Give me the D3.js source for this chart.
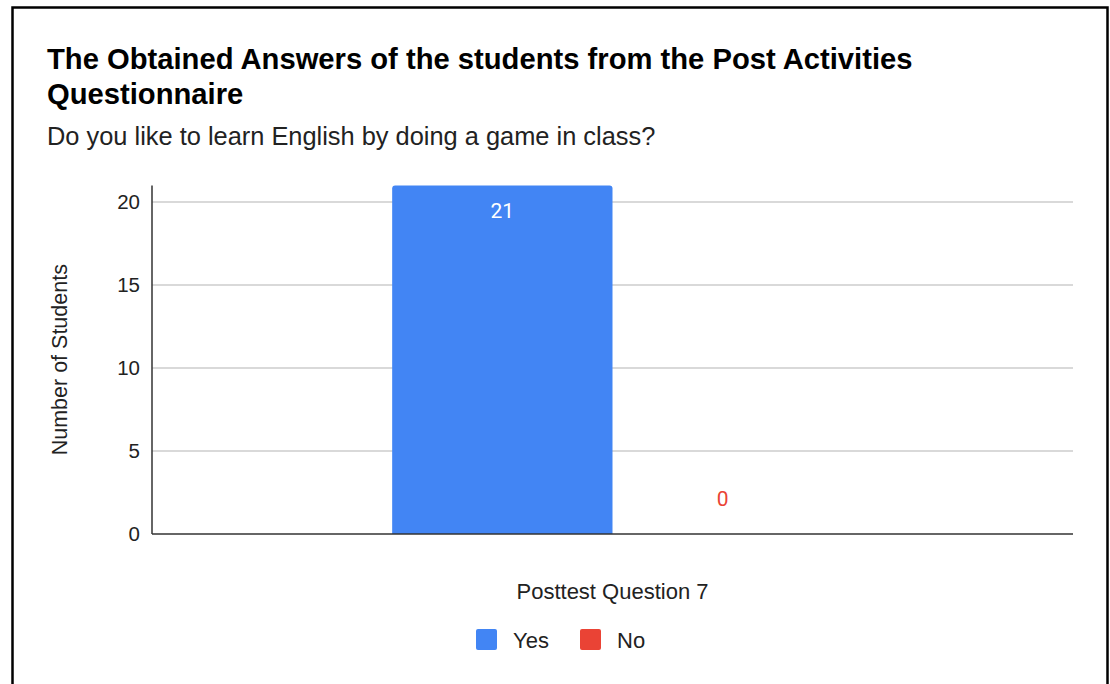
<!DOCTYPE html>
<html>
<head>
<meta charset="utf-8">
<script src="https://cdn.jsdelivr.net/npm/d3@7"></script>
<style>
  html, body { margin: 0; padding: 0; background: #fff; }
  svg { display: block; }
</style>
</head>
<body>
<svg id="chart" width="1110" height="684"></svg>
<script>
// Survey answers for one posttest question
const categories = ["Posttest Question 7"];
const seriesNames = ["Yes", "No"];
const seriesValues = [21, 0];
const seriesColors = ["#4285f4", "#ea4335"];
const yTicks = [0, 5, 10, 15, 20];

const titleLines = ["The Obtained Answers of the students from the Post Activities", "Questionnaire"];
const subtitle = "Do you like to learn English by doing a game in class?";
const yTitle = "Number of Students";

const svg = d3.select("#chart");
const font = "'Liberation Sans', Arial, sans-serif";

// Frame around the chart
svg.append("path")
  .attr("d", "M12.5,684 V7.5 H1107.5 V684")
  .attr("fill", "none").attr("stroke", "#000").attr("stroke-width", 2.5);

const m = { left: 152, right: 1073, top: 185.4, bottom: 534 };

const y = d3.scaleLinear().domain([0, 21]).range([m.bottom, m.top]);
const x0 = d3.scaleBand().domain(categories).range([m.left, m.right]).paddingInner(0).paddingOuter(0.545);
const x1 = d3.scaleBand().domain(seriesNames).range([0, x0.bandwidth()]).padding(0);

// Titles
svg.selectAll("text.title").data(titleLines).join("text")
  .attr("class", "title")
  .attr("x", 47).attr("y", (d, i) => 69 + i * 35)
  .attr("font-family", font).attr("font-weight", "bold").attr("font-size", 29.2)
  .attr("fill", "#000").text(d => d);

svg.append("text")
  .attr("x", 47).attr("y", 145)
  .attr("font-family", font).attr("font-size", 25.4).attr("fill", "#222")
  .text(subtitle);

// Gridlines
svg.append("g").selectAll("line").data(yTicks.filter(t => t > 0)).join("line")
  .attr("x1", m.left).attr("x2", m.right)
  .attr("y1", d => y(d)).attr("y2", d => y(d))
  .attr("stroke", "#ccc").attr("stroke-width", 1.5);

// Y axis tick labels
const yAxis = d3.axisLeft(y).tickValues(yTicks).tickSize(0).tickPadding(12);
const gy = svg.append("g").attr("transform", `translate(${m.left},0)`).call(yAxis);
gy.select(".domain").remove();
gy.selectAll("text")
  .attr("font-family", font).attr("font-size", 20.5).attr("fill", "#222");

// Bars
const groups = svg.append("g").selectAll("g").data(categories).join("g")
  .attr("transform", d => `translate(${x0(d)},0)`);

const r = 3;
const barData = () => seriesNames.map((s, i) => ({ s, v: seriesValues[i], c: seriesColors[i] }));
groups.selectAll("path").data(barData)
  .join("path")
  .attr("d", d => {
    const xl = x1(d.s), w = x1.bandwidth(), yt = y(d.v), yb = y(0);
    if (d.v <= 0) return "";
    return `M${xl},${yb} V${yt + r} Q${xl},${yt} ${xl + r},${yt} H${xl + w - r} Q${xl + w},${yt} ${xl + w},${yt + r} V${yb} Z`;
  })
  .attr("fill", d => d.c);

// Value labels
groups.selectAll("text").data(barData)
  .join("text")
  .attr("x", d => x1(d.s) + x1.bandwidth() / 2)
  .attr("y", d => d.v > 0 ? y(d.v) + 33 : y(0) - 28)
  .attr("text-anchor", "middle")
  .attr("font-family", "Roboto, sans-serif").attr("font-size", 21)
  .attr("fill", d => d.v > 0 ? "#fff" : d.c)
  .text(d => d.v);

// Axis lines
svg.append("line").attr("x1", m.left).attr("x2", m.left).attr("y1", m.top).attr("y2", m.bottom)
  .attr("stroke", "#333").attr("stroke-width", 1.5);
svg.append("line").attr("x1", m.left).attr("x2", m.right).attr("y1", m.bottom).attr("y2", m.bottom)
  .attr("stroke", "#333").attr("stroke-width", 1.5);

// Y axis title
svg.append("text")
  .attr("transform", `translate(67,${(m.top + m.bottom) / 2}) rotate(-90)`)
  .attr("text-anchor", "middle")
  .attr("font-family", font).attr("font-size", 21.5).attr("fill", "#222")
  .text(yTitle);

// X axis category title
svg.append("text")
  .attr("x", (m.left + m.right) / 2).attr("y", 599)
  .attr("text-anchor", "middle")
  .attr("font-family", font).attr("font-size", 22).attr("fill", "#222")
  .text(categories[0]);

// Legend
const legendX = [476, 580];
const lg = svg.append("g").selectAll("g").data(seriesNames).join("g")
  .attr("transform", (d, i) => `translate(${legendX[i]},629)`);
lg.append("rect").attr("width", 21).attr("height", 21).attr("rx", 2)
  .attr("fill", (d, i) => seriesColors[i]);
lg.append("text").attr("x", 37).attr("y", 19)
  .attr("font-family", font).attr("font-size", 22).attr("fill", "#222")
  .text(d => d);
</script>
</body>
</html>
